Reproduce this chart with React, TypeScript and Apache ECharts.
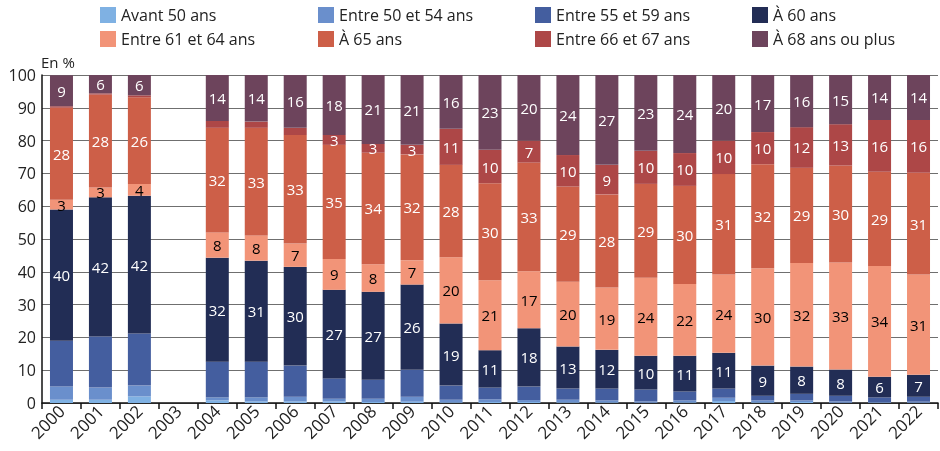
import React, { useEffect, useRef } from "react";
import * as echarts from "echarts";

const years = ["2000","2001","2002","2003","2004","2005","2006","2007","2008","2009","2010","2011","2012","2013","2014","2015","2016","2017","2018","2019","2020","2021","2022"];

const avant50 = [1, 1, 2, null, 0.8, 0.5, 0.5, 0.5, 0.3, 0.4, 0.2, 0.3, 0.3, 0.2, 0.2, 0.1, 0.2, 0.6, 0.2, 0.3, 0.1, 0.1, 0.1];
const entre50_54 = [4, 3.7, 3.3, null, 0.9, 1.2, 1.4, 0.8, 1.0, 1.5, 0.8, 0.8, 0.6, 0.8, 0.6, 0.4, 0.6, 1.0, 0.6, 0.5, 0.4, 0.2, 0.3];
const entre55_59 = [14, 15.6, 15.9, null, 10.9, 10.9, 9.5, 6.2, 5.8, 8.2, 4.3, 3.6, 4.1, 3.4, 3.6, 3.6, 2.7, 2.8, 1.4, 2.0, 1.7, 1.4, 1.5];
const a60 = [40, 42.4, 42, null, 31.7, 30.8, 30.1, 27, 26.8, 26, 18.9, 11.4, 17.8, 12.8, 11.8, 10.3, 10.9, 10.9, 9.2, 8.3, 8, 6.3, 6.7];
const entre61_64 = [3, 3, 3.6, null, 7.7, 7.7, 7.1, 9.4, 8.4, 7.4, 20.2, 21.3, 17.4, 19.8, 19, 23.8, 21.9, 23.9, 29.7, 31.6, 32.6, 33.8, 30.6];
const a65 = [28, 28.3, 26.4, null, 31.9, 32.8, 33.1, 34.8, 34, 32.3, 28.2, 29.6, 33.1, 29, 28.4, 28.6, 29.9, 30.6, 31.7, 29, 29.6, 28.7, 31];
const entre66_67 = [0.5, 0.4, 0.6, null, 2.1, 1.9, 2.2, 3, 2.7, 2.9, 11, 10.2, 6.7, 9.6, 9, 10.1, 10, 10.2, 9.8, 12.4, 12.6, 15.8, 16.1];
const a68plus = [9.4, 5.6, 6.2, null, 14, 14.2, 16.1, 18.3, 21, 21.3, 16.4, 22.8, 20, 24.4, 27.4, 23.1, 23.8, 20, 17.4, 15.9, 15, 13.7, 13.7];

const yTicks = [0, 10, 20, 30, 40, 50, 60, 70, 80, 90, 100];

const FONT = "Open Sans";

type S = { name: string; data: (number | null)[]; color: string; labelColor: string; minLabel: number | null };

const seriesDefs: S[] = [
  { name: "Avant 50 ans", data: avant50, color: "#7fb1e3", labelColor: "#fff", minLabel: null },
  { name: "Entre 50 et 54 ans", data: entre50_54, color: "#6a8fcc", labelColor: "#fff", minLabel: null },
  { name: "Entre 55 et 59 ans", data: entre55_59, color: "#445e9f", labelColor: "#fff", minLabel: null },
  { name: "À 60 ans", data: a60, color: "#222d55", labelColor: "#ffffff", minLabel: 0 },
  { name: "Entre 61 et 64 ans", data: entre61_64, color: "#f29478", labelColor: "#000000", minLabel: 2.5 },
  { name: "À 65 ans", data: a65, color: "#cd5f48", labelColor: "#ffffff", minLabel: 0 },
  { name: "Entre 66 et 67 ans", data: entre66_67, color: "#ad4747", labelColor: "#ffffff", minLabel: 2.5 },
  { name: "À 68 ans ou plus", data: a68plus, color: "#6d445c", labelColor: "#ffffff", minLabel: 0 },
];

const legendCols = [
  ["Avant 50 ans", "Entre 61 et 64 ans"],
  ["Entre 50 et 54 ans", "À 65 ans"],
  ["Entre 55 et 59 ans", "Entre 66 et 67 ans"],
  ["À 60 ans", "À 68 ans ou plus"],
];
const legendLeft = [100, 318, 535, 752];

export default function App() {
  const ref = useRef<HTMLDivElement>(null);
  useEffect(() => {
    if (!ref.current) return;
    const chart = echarts.init(ref.current, null, { renderer: "svg" });
    const option: any = {
      animation: false,
      textStyle: { fontFamily: FONT },
      legend: legendCols.map((items, i) => ({
        orient: "vertical",
        left: legendLeft[i],
        top: 7,
        itemWidth: 16,
        itemHeight: 16,
        itemGap: 8,
        data: items,
        textStyle: { fontFamily: FONT, fontSize: 16, color: "#222" },
        icon: "rect",
        padding: 0,
        selectedMode: false,
      })),
      graphic: [
        {
          type: "text",
          left: 41,
          top: 54,
          style: { text: "En %", fontFamily: FONT, fontSize: 15, fill: "#222" },
        },
      ],
      grid: { left: 42, right: 2, top: 75, bottom: 48 },
      xAxis: {
        type: "category",
        data: years,
        axisLine: { lineStyle: { color: "#111", width: 1.5 } },
        axisTick: { show: true, length: 6, lineStyle: { color: "#111", width: 1.5 } },
        axisLabel: { rotate: 45, fontFamily: FONT, fontSize: 17, color: "#222", margin: 5, interval: 0 },
      },
      yAxis: {
        type: "value",
        min: yTicks[0],
        max: yTicks[yTicks.length - 1],
        interval: 10,
        axisLine: { show: true, lineStyle: { color: "#111", width: 1.5 } },
        axisTick: { show: false },
        splitLine: { lineStyle: { color: "#6f6f6f", width: 1.2 } },
        axisLabel: { fontFamily: FONT, fontSize: 16, color: "#222", margin: 6 },
      },
      series: seriesDefs.map((s) => ({
        name: s.name,
        type: "bar",
        stack: "total",
        barWidth: 23,
        data: s.data.map((v) => (v === null ? "-" : v)),
        itemStyle: { color: s.color },
        label: {
          show: s.minLabel !== null,
          position: "inside",
          fontFamily: FONT,
          fontSize: 15,
          color: s.labelColor,
          formatter: (p: any) => {
            const v = typeof p.value === "number" ? p.value : Number(p.value);
            if (!isFinite(v)) return "";
            if (s.minLabel === null || v < s.minLabel) return "";
            return String(Math.round(v));
          },
        },
      })),
    };
    chart.setOption(option);
    return () => chart.dispose();
  }, []);
  return <div ref={ref} style={{ position: "fixed", left: 0, top: 0, width: 940, height: 451 }} />;
}
